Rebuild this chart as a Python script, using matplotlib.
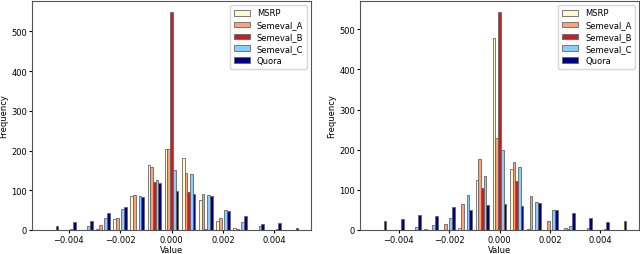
import matplotlib
matplotlib.use("Agg")
import matplotlib.pyplot as plt
import numpy as np

names = ["MSRP", "Semeval_A", "Semeval_B", "Semeval_C", "Quora"]
colors = ["#FFFACD", "#FFA07A", "#C81E1E", "#87CEFA", "#000080"]

# per-bin counts, 15 bins, left panel (range -0.005 .. 0.005)
left_counts = {
    "MSRP":      [0, 0, 1, 3, 28, 85, 163, 203, 180, 76, 22, 5, 1, 0, 0],
    "Semeval_A": [0, 0, 0, 12, 30, 88, 159, 205, 143, 91, 31, 3, 1, 0, 0],
    "Semeval_B": [0, 0, 0, 0, 0, 0, 120, 549, 96, 3, 0, 0, 1, 0, 1],
    "Semeval_C": [1, 2, 9, 29, 52, 86, 126, 152, 142, 88, 50, 20, 9, 3, 0],
    "Quora":     [9, 20, 22, 44, 57, 84, 119, 99, 90, 86, 48, 34, 14, 18, 6],
}
left_range = (-0.005, 0.005)

# right panel (range -0.0051 .. 0.0051)
right_counts = {
    "MSRP":      [0, 0, 1, 2, 1, 6, 125, 479, 153, 3, 0, 0, 0, 0, 0],
    "Semeval_A": [0, 0, 0, 0, 14, 64, 177, 230, 169, 84, 22, 4, 0, 0, 0],
    "Semeval_B": [1, 0, 0, 0, 0, 0, 104, 543, 121, 0, 0, 2, 0, 1, 0],
    "Semeval_C": [1, 0, 7, 12, 30, 88, 134, 200, 158, 69, 49, 11, 6, 3, 0],
    "Quora":     [22, 28, 38, 35, 58, 50, 63, 65, 60, 66, 51, 43, 30, 19, 22],
}
right_range = (-0.0051, 0.0051)
n_bins = 15

plt.rcParams["font.size"] = 6


def draw(ax, counts, rng):
    edges = np.linspace(rng[0], rng[1], n_bins + 1)
    centers = (edges[:-1] + edges[1:]) / 2
    xs = [centers for _ in names]
    ws = [counts[n] for n in names]
    ax.hist(xs, bins=edges, weights=ws, color=colors, label=names,
            edgecolor="#666666", linewidth=0.6)
    ax.set_xlabel("Value", fontsize=6, labelpad=1)
    ax.set_ylabel("Frequency", fontsize=6, labelpad=2)
    ax.set_xticks([-0.004, -0.002, 0.0, 0.002, 0.004])
    ax.tick_params(labelsize=6, length=2, pad=1.5)
    for s in ax.spines.values():
        s.set_color("#555555")
    ax.legend(loc="upper right", fontsize=6, handlelength=2.0,
              borderpad=0.4, labelspacing=0.35)


fig = plt.figure(figsize=(6.4, 2.55), dpi=100)
ax1 = fig.add_axes([32 / 640, 24 / 255, 279 / 640, 229 / 255])
ax2 = fig.add_axes([360 / 640, 24 / 255, 279 / 640, 229 / 255])
draw(ax1, left_counts, left_range)
draw(ax2, right_counts, right_range)

fig.savefig("out.png", dpi=100)
